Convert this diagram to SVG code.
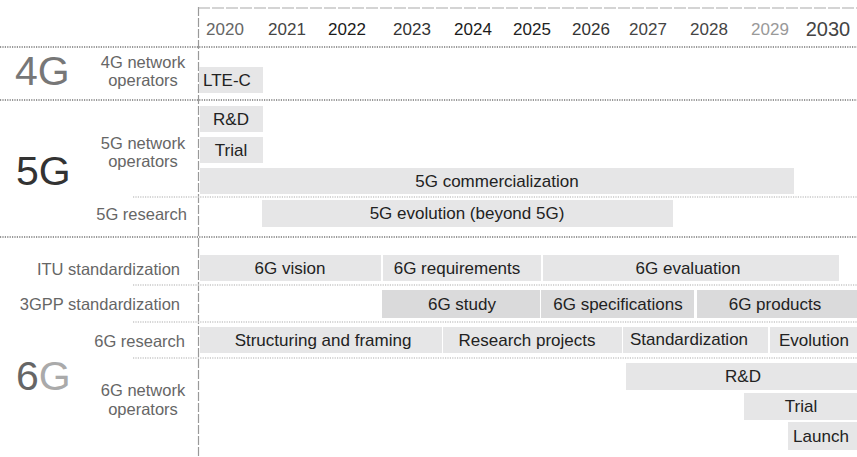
<svg xmlns="http://www.w3.org/2000/svg" width="857" height="457" viewBox="0 0 857 457">
<style>
text{font-family:"Liberation Sans",Arial,sans-serif}
.yr{font-size:17px;text-anchor:middle}
.bar{fill:#e6e6e7}
.bar2{fill:#dadadb}
.bt{font-size:17px;fill:#222;text-anchor:middle}
.lab{font-size:16.5px;fill:#666}
.major{stroke:#777;stroke-width:1.6;stroke-dasharray:1.2 1.2;fill:none}
.minor{stroke:#c8c8c8;stroke-width:1.4;stroke-dasharray:1.2 1.2;fill:none}
.big{font-size:41px}
</style>
<rect width="857" height="457" fill="#fff"/>
<g id="grid">
<path d="M198.5 7V457" stroke="#999" stroke-width="1.2" stroke-dasharray="9 2" fill="none"/>
<path d="M198 8H857" stroke="#aaa" stroke-width="1.2" stroke-dasharray="12 2" fill="none"/>
<path class="major" d="M0 47H857M0 100H857M0 237H857"/>
<path class="minor" d="M133 197H857M133 285H857M133 322H857M133 358H857"/>
</g>
<g id="years">
<text class="yr" x="225" y="35" fill="#666">2020</text>
<text class="yr" x="287" y="35" fill="#444">2021</text>
<text class="yr" x="347" y="35" fill="#1a1a1a">2022</text>
<text class="yr" x="412" y="35" fill="#333">2023</text>
<text class="yr" x="473" y="35" fill="#1a1a1a">2024</text>
<text class="yr" x="532" y="35" fill="#222">2025</text>
<text class="yr" x="591" y="35" fill="#333">2026</text>
<text class="yr" x="648" y="35" fill="#444">2027</text>
<text class="yr" x="709" y="35" fill="#444">2028</text>
<text class="yr" x="770" y="35" fill="#999">2029</text>
<text class="yr" x="828" y="36" fill="#444" style="font-size:20px">2030</text>
</g>
<g id="labels">
<text class="big" x="15" y="85" fill="#777">4G</text>
<text class="lab" x="143" y="68" text-anchor="middle">4G network</text>
<text class="lab" x="143" y="86" text-anchor="middle">operators</text>
<text class="big" x="16" y="185" fill="#333">5G</text>
<text class="lab" x="143" y="149" text-anchor="middle">5G network</text>
<text class="lab" x="143" y="167" text-anchor="middle">operators</text>
<text class="lab" x="187" y="220" text-anchor="end">5G research</text>
<text class="lab" x="180" y="275" text-anchor="end">ITU standardization</text>
<text class="lab" x="180" y="310" text-anchor="end" fill="#555">3GPP standardization</text>
<text class="lab" x="185" y="347" text-anchor="end" fill="#777">6G research</text>
<text class="big" x="16" y="390"><tspan fill="#666">6</tspan><tspan fill="#aaa">G</tspan></text>
<text class="lab" x="143" y="396" text-anchor="middle">6G network</text>
<text class="lab" x="143" y="415" text-anchor="middle">operators</text>
</g>
<g id="lte-c"><rect class="bar" x="199" y="67" width="64" height="26"/><text class="bt" x="203" y="86" style="text-anchor:start">LTE-C</text></g>
<g id="5g-rd"><rect class="bar" x="200" y="106" width="63" height="26"/><text class="bt" x="231" y="125">R&amp;D</text></g>
<g id="5g-trial"><rect class="bar" x="200" y="137" width="63" height="26"/><text class="bt" x="231" y="156">Trial</text></g>
<g id="5g-comm"><rect class="bar" x="200" y="168" width="594" height="26"/><text class="bt" x="497" y="187">5G commercialization</text></g>
<g id="5g-evol"><rect class="bar" x="262" y="200" width="411" height="27"/><text class="bt" x="467" y="219">5G evolution (beyond 5G)</text></g>
<g id="itu-vision"><rect class="bar" x="200" y="255" width="181" height="26"/><text class="bt" x="290" y="274">6G vision</text></g>
<g id="itu-req"><rect class="bar" x="383" y="255" width="158" height="26"/><text class="bt" x="457" y="274">6G requirements</text></g>
<g id="itu-eval"><rect class="bar" x="543" y="255" width="296" height="26"/><text class="bt" x="688" y="274">6G evaluation</text></g>
<g id="3gpp-study"><rect class="bar2" x="382" y="290" width="158" height="28"/><text class="bt" x="462" y="310">6G study</text></g>
<g id="3gpp-spec"><rect class="bar2" x="541" y="290" width="153" height="28"/><text class="bt" x="618" y="310">6G specifications</text></g>
<g id="3gpp-prod"><rect class="bar2" x="697" y="290" width="160" height="28"/><text class="bt" x="775" y="310">6G products</text></g>
<g id="res-struct"><rect class="bar" x="200" y="327" width="242" height="26"/><text class="bt" x="323" y="346">Structuring and framing</text></g>
<g id="res-proj"><rect class="bar" x="443" y="327" width="179" height="26"/><text class="bt" x="527" y="346">Research projects</text></g>
<g id="res-std"><rect class="bar" x="623" y="327" width="145" height="26"/><text class="bt" x="689" y="345">Standardization</text></g>
<g id="res-evo"><rect class="bar" x="770" y="327" width="87" height="26"/><text class="bt" x="814" y="346">Evolution</text></g>
<g id="6g-rd"><rect class="bar" x="626" y="363" width="231" height="27"/><text class="bt" x="743" y="382">R&amp;D</text></g>
<g id="6g-trial"><rect class="bar" x="744" y="393" width="113" height="27"/><text class="bt" x="801" y="412">Trial</text></g>
<g id="6g-launch"><rect class="bar" x="788" y="422" width="69" height="28"/><text class="bt" x="821" y="442">Launch</text></g>
<g id="connectors"/>
</svg>
